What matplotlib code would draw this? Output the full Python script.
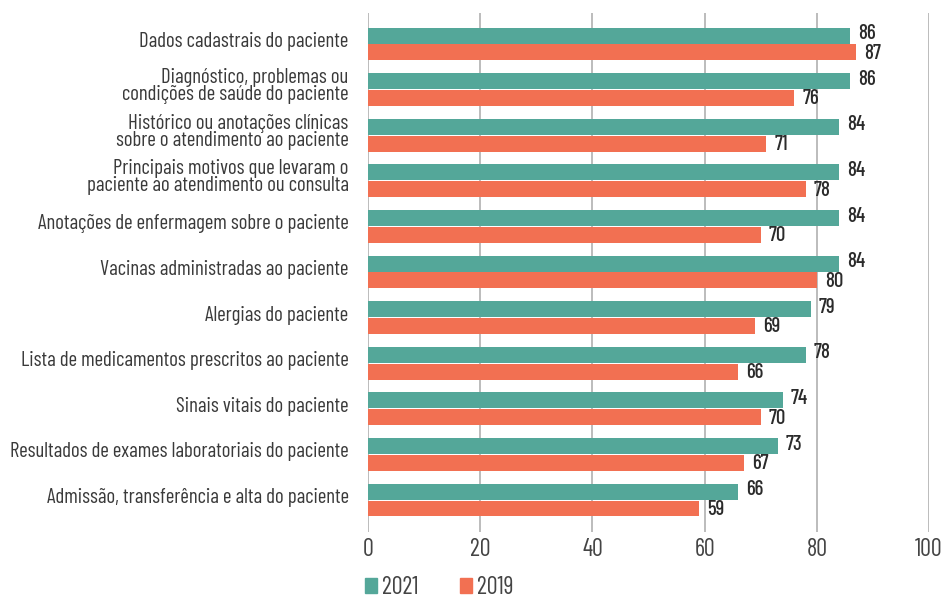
import matplotlib.pyplot as plt
import matplotlib.patches as mpatches
import numpy as np

plt.rcParams['font.family'] = ['Barlow Condensed', 'Roboto Condensed', 'DejaVu Sans']

# categories, top to bottom
categorias = [
    'Dados cadastrais do paciente',
    'Diagnóstico, problemas ou\ncondições de saúde do paciente',
    'Histórico ou anotações clínicas\nsobre o atendimento ao paciente',
    'Principais motivos que levaram o\npaciente ao atendimento ou consulta',
    'Anotações de enfermagem sobre o paciente',
    'Vacinas administradas ao paciente',
    'Alergias do paciente',
    'Lista de medicamentos prescritos ao paciente',
    'Sinais vitais do paciente',
    'Resultados de exames laboratoriais do paciente',
    'Admissão, transferência e alta do paciente',
]
v2021 = [86, 86, 84, 84, 84, 84, 79, 78, 74, 73, 66]
v2019 = [87, 76, 71, 78, 70, 80, 69, 66, 70, 67, 59]
xticks = [0, 20, 40, 60, 80, 100]

teal = '#54A799'
laranja = '#F27052'
cinza_txt = '#3a3a3a'

fig = plt.figure(figsize=(9.48, 5.99), dpi=100)
ax = fig.add_axes([0.3882, 0.1119, 0.5918, 0.8664])

y = np.arange(len(categorias))
h = 0.35
off = 0.185
ax.barh(y - off, v2021, height=h, color=teal, zorder=2)
ax.barh(y + off, v2019, height=h, color=laranja, zorder=2)

for yi, a, b in zip(y, v2021, v2019):
    ax.text(a + 1.4, yi - off - 0.04, str(a), va='center', ha='left',
            fontsize=15, color='#2b2b2b', fontweight='medium')
    ax.text(b + 1.4, yi + off + 0.02, str(b), va='center', ha='left',
            fontsize=15, color='#2b2b2b', fontweight='medium')

ax.set_xlim(0, 100)
ax.set_ylim(len(categorias) - 1 + 0.70, -0.68)
ax.set_xticks(xticks)
ax.set_xticklabels([str(t) for t in xticks], fontsize=17.5, color='#444444')
ax.set_yticks(y - 0.1)
ax.set_yticklabels(categorias, fontsize=15, color=cinza_txt, linespacing=0.88)
ax.tick_params(axis='both', length=0)
ax.tick_params(axis='x', pad=4)
ax.tick_params(axis='y', pad=14)

ax.grid(axis='x', color='#b0b0b0', linewidth=1.2, zorder=0)
for s in ax.spines.values():
    s.set_visible(False)

handles = [mpatches.Patch(color=teal, label='2021'),
           mpatches.Patch(color=laranja, label='2019')]
fig.legend(handles=handles, loc='lower left', bbox_to_anchor=(0.385, 0.0),
           ncol=2, frameon=False, handlelength=0.5, handleheight=0.6,
           handletextpad=0.2, columnspacing=1.7, borderpad=0,
           borderaxespad=0, labelcolor='#444444', prop={'size': 17.5})

fig.savefig('out.png', dpi=100)
